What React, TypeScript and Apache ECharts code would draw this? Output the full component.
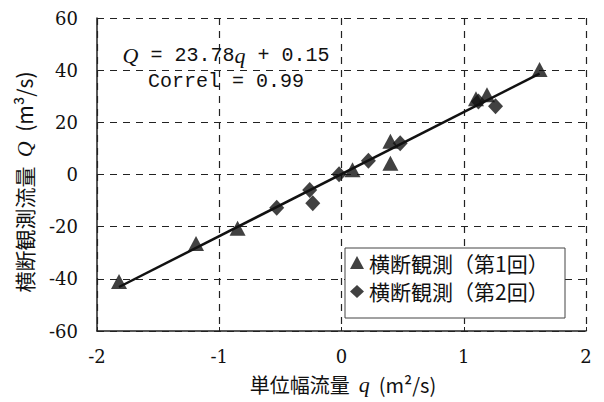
import React, { useEffect, useRef } from "react";
import * as echarts from "echarts";

// Series 1: 横断観測（第1回） — triangles
const survey1Q: number[] = [-1.82, -1.19, -0.85, 0.09, 0.4, 0.4, 1.1, 1.19, 1.62];
const survey1Flow: number[] = [-41.0, -26.5, -20.6, 1.8, 12.7, 4.3, 29.0, 30.6, 40.3];

// Series 2: 横断観測（第2回） — diamonds
const survey2Q: number[] = [-0.53, -0.26, -0.235, -0.02, 0.22, 0.48, 1.12, 1.26];
const survey2Flow: number[] = [-12.7, -5.9, -11.0, 0.1, 5.3, 12.0, 28.0, 26.2];

// Regression line
const slope = 23.78;
const intercept = 0.15;
const fitRange: number[] = [-1.82, 1.62];

const xTicks = { min: -2, max: 2, interval: 1 };
const yTicks = { min: -60, max: 60, interval: 20 };

const seriesNames: string[] = ["横断観測（第1回）", "横断観測（第2回）"];

const equationText = "{i|Q} = 23.78{i|q} + 0.15";
const correlText = "Correl = 0.99";

export default function App() {
  const ref = useRef<HTMLDivElement>(null);

  useEffect(() => {
    if (!ref.current) return;
    const chart = echarts.init(ref.current, undefined, { renderer: "svg" });

    const s1 = survey1Q.map((q, i) => [q, survey1Flow[i]]);
    const s2 = survey2Q.map((q, i) => [q, survey2Flow[i]]);
    const fit = fitRange.map((q) => [q, slope * q + intercept]);

    const tickRich = {
      t: { fontFamily: "DejaVu Serif", fontSize: 18, color: "#111" },
    };

    chart.setOption({
      animation: false,
      backgroundColor: "#fff",
      grid: { left: 97, right: 18, top: 18, bottom: 71, containLabel: false },
      xAxis: {
        type: "value",
        min: xTicks.min,
        max: xTicks.max,
        interval: xTicks.interval,
        axisLine: { show: true, onZero: false, lineStyle: { color: "#222", width: 1.5 } },
        axisTick: { show: true, inside: true, length: 4, lineStyle: { color: "#222" } },
        axisLabel: {
          fontFamily: "DejaVu Serif",
          fontSize: 18,
          color: "#111",
          margin: 16,
          formatter: (v: number) => `{t|${v}}`,
          rich: tickRich,
        },
        splitLine: { show: true, lineStyle: { color: "#222", type: [7, 6], width: 1.2 } },
      },
      yAxis: {
        type: "value",
        min: yTicks.min,
        max: yTicks.max,
        interval: yTicks.interval,
        axisLine: { show: true, onZero: false, lineStyle: { color: "#222", width: 1.5 } },
        axisTick: { show: true, inside: true, length: 4, lineStyle: { color: "#222" } },
        axisLabel: {
          fontFamily: "DejaVu Serif",
          fontSize: 18,
          color: "#111",
          margin: 19,
          formatter: (v: number) => `{t|${v}}`,
          rich: tickRich,
        },
        splitLine: { show: true, lineStyle: { color: "#222", type: [7, 6], width: 1.2 } },
      },
      legend: {
        orient: "vertical",
        left: 350,
        top: 252,
        padding: 0,
        itemGap: 8,
        itemWidth: 14,
        itemHeight: 13,
        z: 10,
        textStyle: {
          fontFamily: "Noto Sans CJK JP",
          fontSize: 21,
          color: "#111",
        },
        data: [
          { name: seriesNames[0], icon: "triangle" },
          { name: seriesNames[1], icon: "diamond" },
        ],
      },
      graphic: [
        {
          type: "rect",
          shape: { x: 345, y: 248, width: 220, height: 70 },
          style: { fill: "#fff", stroke: "#444", lineWidth: 1 },
          z: 5,
        },
        {
          type: "text",
          x: 226,
          y: 55,
          style: {
            text: equationText,
            fontFamily: "Liberation Mono",
            fontSize: 20,
            fill: "#111",
            align: "center",
            verticalAlign: "middle",
            rich: {
              i: { fontFamily: "Liberation Serif", fontStyle: "italic", fontSize: 22, fill: "#111" },
            },
          },
          z: 100,
        },
        {
          type: "text",
          x: 226,
          y: 81,
          style: {
            text: correlText,
            fontFamily: "Liberation Mono",
            fontSize: 20,
            fill: "#111",
            align: "center",
            verticalAlign: "middle",
          },
          z: 100,
        },
        {
          type: "text",
          x: 24,
          y: 182,
          rotation: Math.PI / 2,
          style: {
            text: "横断観測流量  {i|Q}  (m³/s)",
            fontFamily: "Noto Sans CJK JP",
            fontSize: 21,
            fill: "#111",
            align: "center",
            verticalAlign: "middle",
            rich: {
              i: { fontFamily: "Liberation Serif", fontStyle: "italic", fontSize: 22, fill: "#111" },
            },
          },
        },
        {
          type: "text",
          x: 343,
          y: 384,
          style: {
            text: "単位幅流量  {i|q}  (m²/s)",
            fontFamily: "Noto Sans CJK JP",
            fontSize: 20,
            fill: "#111",
            align: "center",
            verticalAlign: "middle",
            rich: {
              i: { fontFamily: "Liberation Serif", fontStyle: "italic", fontSize: 22, fill: "#111" },
            },
          },
        },
      ],
      series: [
        {
          type: "line",
          data: fit,
          symbol: "none",
          lineStyle: { color: "#111", width: 2.5 },
          silent: true,
          z: 1,
        },
        {
          name: seriesNames[0],
          type: "scatter",
          data: s1,
          symbol: "triangle",
          symbolSize: [16, 15],
          itemStyle: { color: "#111" },
          z: 3,
        },
        {
          name: seriesNames[1],
          type: "scatter",
          data: s2,
          symbol: "diamond",
          symbolSize: [15, 16],
          itemStyle: { color: "#111" },
          z: 3,
        },
      ],
    });

    return () => chart.dispose();
  }, []);

  return <div ref={ref} style={{ width: 604, height: 402, position: "absolute", left: 0, top: 0 }} />;
}
